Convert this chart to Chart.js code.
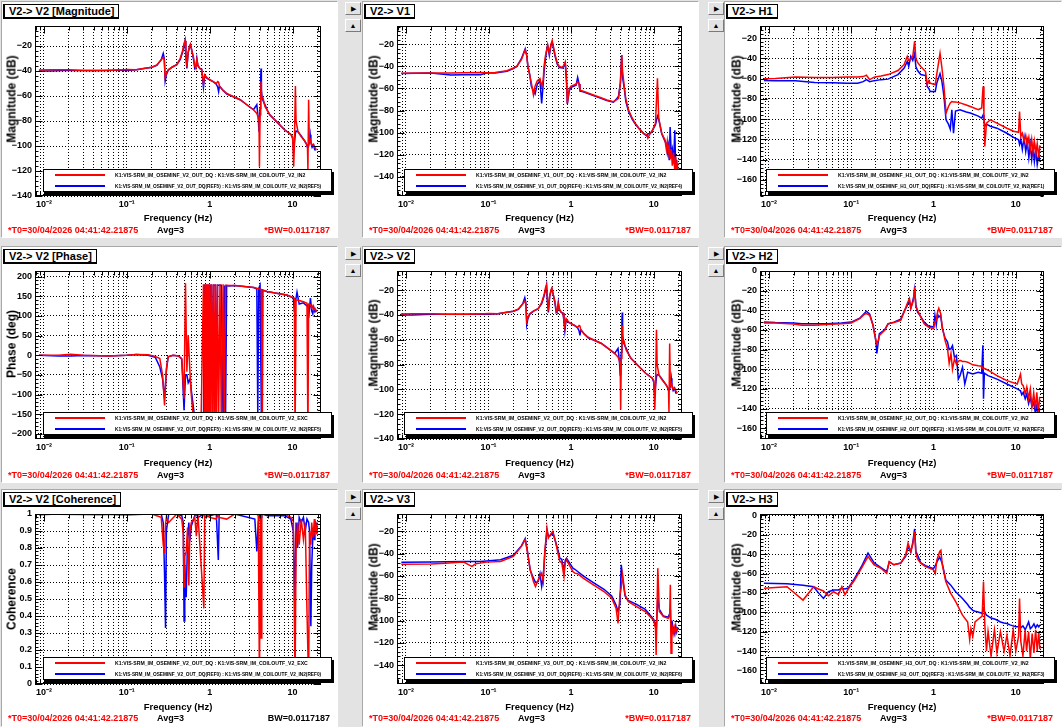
<!DOCTYPE html>
<html>
<head>
<meta charset="utf-8">
<title>V2 excitation - transfer functions</title>
<script src="https://cdn.jsdelivr.net/npm/chart.js@4.4.1/dist/chart.umd.min.js"></script>
<style>
  body { margin: 0; background: #e3e3e3; }
  #screen { position: relative; width: 1062px; height: 727px; overflow: hidden; background: #e3e3e3;
            font-family: "Liberation Sans", Arial, Helvetica, sans-serif; }
  .pad { position: absolute; background: #fff; box-shadow: -1px -1px 0 #a8a8a8; }
  .pad canvas { position: absolute; left: 0; top: 0; }
  .ttl { position: absolute; left: 1px; top: 2px; background: #fff; border: 1px solid #000;
         border-left-width: 2px; border-bottom-width: 2px; padding: 0 4px; font-weight: bold;
         font-size: 11px; line-height: 12px; white-space: nowrap; }
  .ytl { position: absolute; font-weight: bold; font-size: 12px; line-height: 13px; white-space: nowrap;
         transform: translate(-50%, -50%) rotate(-90deg); }
  .leg { position: absolute; box-sizing: border-box; background: #fff; border: 1px solid #000;
         box-shadow: 2px 3px 0 #000; }
  .leg .ln { position: absolute; left: 11px; width: 50px; height: 2px; }
  .leg .tx { position: absolute; left: 71px; font-weight: bold; font-size: 10.3px; line-height: 12px;
             white-space: nowrap; transform: scale(0.5); transform-origin: 0 0; }
  .leg .tx.ref { font-size: 9.5px; }
  .foot { position: absolute; top: 223px; font-weight: bold; font-size: 9px; line-height: 11px; white-space: nowrap; }
  .btn { position: absolute; width: 14px; height: 11px; background: #e3e3e3; border: 1px solid;
         border-color: #fff #7a7a7a #7a7a7a #fff; font-size: 7px; line-height: 11px; text-align: center; color: #000; }
</style>
</head>
<body>
<div id="screen"></div>
<script>
// ---- axis ticks ----
const xGridTicks = [0.008, 0.009, 0.01, 0.02, 0.03, 0.04, 0.05, 0.06, 0.07, 0.08, 0.09,
  0.1, 0.2, 0.3, 0.4, 0.5, 0.6, 0.7, 0.8, 0.9, 1, 2, 3, 4, 5, 6, 7, 8, 9, 10, 20];
const xDecades = [0.01, 0.1, 1, 10];
const xDecadeLabels = ['10\u207B\u00B2', '10\u207B\u00B9', '1', '10'];
const yTicksMag140 = [-140, -120, -100, -80, -60, -40, -20];
const yTicksMag160 = [-160, -140, -120, -100, -80, -60, -40, -20];
const yTicksMag160z = [-160, -140, -120, -100, -80, -60, -40, -20, 0];
const yTicksPhase = [-200, -150, -100, -50, 0, 50, 100, 150, 200];
const yTicksCoh = [0, 0.1, 0.2, 0.3, 0.4, 0.5, 0.6, 0.7, 0.8, 0.9, 1];

// ---- V2 -> V2 magnitude (dB) ----
const fV2 = [0.0087, 0.012, 0.02, 0.03, 0.05, 0.08, 0.1, 0.13, 0.16, 0.2,
  0.23, 0.26, 0.275, 0.283, 0.29, 0.3, 0.315, 0.35, 0.4, 0.44,
  0.47, 0.49, 0.504, 0.515, 0.53, 0.55, 0.57, 0.585, 0.61, 0.635,
  0.66, 0.68, 0.7, 0.72, 0.76, 0.8, 0.82, 0.84, 0.87, 0.93,
  1.0, 1.1, 1.2, 1.25, 1.28, 1.31, 1.45, 1.61, 2.0, 2.33,
  2.8, 3.37, 3.7, 3.85, 3.93, 3.98, 4.05, 4.12, 4.16, 4.2,
  4.3, 4.36, 4.5, 4.65, 5.0, 5.3, 6.4, 8.0, 9.6, 10.0,
  10.3, 10.5, 10.8, 11.0, 11.6, 12.7, 14.0, 14.6, 15.1, 15.3,
  15.6, 15.9, 16.3, 16.6, 17.2, 17.9, 18.5, 19.3];
const magV2Red = [-39.2, -39, -39, -39.5, -39.5, -39.3, -38.8, -39, -38, -37,
  -35.2, -31, -29, -31, -45, -42, -39, -37, -35, -30,
  -24, -18, -15.7, -25, -36.5, -25, -20, -18.4, -24, -28.5,
  -36, -38, -31, -35, -38, -39, -44, -50, -43, -45.5,
  -47, -48.5, -50, -48.5, -49, -52, -55.5, -58, -61, -63,
  -67, -71, -74, -77, -80, -116.5, -75, -60, -48.5, -62,
  -62, -60.5, -65, -68.5, -72, -75, -80.5, -87, -91, -93,
  -116.5, -100, -52, -80, -88.5, -92.5, -96, -98, -100, -119,
  -63, -97, -95, -97, -99, -99, -101, -103];
const magV2Blue = [-40, -40, -39.5, -39.5, -39.5, -39.3, -39.5, -39, -38, -37,
  -35.5, -31, -26, -30, -48, -43, -39.5, -37, -35, -31,
  -25, -20, -16, -28, -38, -25, -21, -19, -24, -30,
  -38, -37, -30, -36, -38, -38.5, -46, -53, -44, -46,
  -47, -48.5, -50.5, -53, -56.5, -52, -55.5, -58.5, -61, -63,
  -67, -71, -67, -78, -88.5, -80, -70, -45, -38, -55,
  -62, -63, -65, -67, -72, -75, -80.5, -87, -91, -94,
  -104.5, -98, -90, -88, -88.5, -92, -96, -98, -101, -100,
  -100, -97, -91, -97, -101, -99, -103, -103];

// ---- V2 -> V1 magnitude (dB) ----
const fV1 = [0.0088, 0.02, 0.035, 0.05, 0.08, 0.095, 0.12, 0.167, 0.2, 0.22,
  0.25, 0.278, 0.29, 0.3, 0.315, 0.33, 0.35, 0.366, 0.39, 0.42,
  0.44, 0.46, 0.47, 0.49, 0.51, 0.52, 0.545, 0.57, 0.59, 0.64,
  0.68, 0.72, 0.79, 0.85, 0.88, 0.9, 0.95, 1.0, 1.07, 1.15,
  1.2, 1.25, 1.28, 1.4, 1.86, 2.3, 2.71, 3.26, 3.6, 3.75,
  3.95, 4.1, 4.2, 4.4, 4.6, 4.96, 5.5, 5.96, 6.6, 7.5,
  8.25, 8.5, 9.0, 9.5, 10.5, 11.1, 11.5, 12.5, 13.7, 14.2,
  14.6, 15.0, 15.4, 15.8, 16.3, 16.8, 17.4, 18.0, 18.5, 19.0,
  19.5];
const magV1Red = [-46.3, -46, -46, -45.7, -45.5, -45.7, -45.5, -44, -41.5, -40,
  -34, -25, -30, -40, -48, -55, -66, -58, -53, -51,
  -58, -52, -40, -30, -24.5, -20.6, -28, -20, -16.7, -29.7,
  -37, -40, -41, -35.7, -50, -73.5, -60, -58, -57, -56,
  -54, -56, -61.5, -62.5, -66, -68.5, -70.5, -72, -70, -69,
  -55, -29.7, -45, -58, -70, -79.5, -87, -91.6, -96, -100.7,
  -102, -105, -101, -99, -91.6, -50.8, -87, -100.7, -106.8, -115,
  -108, -118, -112, -124, -115, -130, -118, -135, -122, -140,
  -128];
const magV1Blue = [-46.5, -46, -47.8, -47.5, -47.5, -46, -46, -44.5, -42, -40,
  -33, -24, -30, -40, -47, -58, -62, -65, -56, -53,
  -73.5, -55, -45, -33, -23, -21, -30, -21, -18, -31,
  -38, -41, -41.5, -38, -55, -74, -62, -59, -58, -57,
  -50, -56, -62.5, -63, -66.5, -69, -71, -72.5, -69, -67,
  -55, -29.7, -50, -60, -72, -81, -88, -92, -96, -100.7,
  -103, -101, -101, -99, -93, -85, -88, -101, -108, -110,
  -118, -112, -125, -95, -120, -115, -128, -98, -135, -125,
  -142];

// ---- V2 -> H1 magnitude (dB) ----
const fH1 = [0.0087, 0.012, 0.021, 0.036, 0.06, 0.09, 0.12, 0.14, 0.153, 0.168,
  0.19, 0.23, 0.28, 0.37, 0.44, 0.48, 0.5, 0.53, 0.56, 0.59,
  0.61, 0.64, 0.7, 0.8, 0.84, 0.88, 0.91, 1.05, 1.1, 1.2,
  1.26, 1.34, 1.42, 1.52, 1.6, 1.67, 1.75, 1.85, 2.1, 2.5,
  2.8, 3.5, 3.85, 4.0, 4.1, 4.2, 4.4, 4.9, 5.9, 7.8,
  9.4, 10.8, 11.1, 11.5, 12.0, 12.6, 13.2, 13.8, 14.4, 15.0,
  15.6, 16.2, 16.8, 17.5, 18.2, 19.0, 19.6];
const magH1Red = [-60.2, -60, -58.5, -59, -59, -58.5, -58.5, -58, -56.6, -61,
  -58.5, -57.5, -56, -52, -46, -38, -42, -41, -38, -23,
  -40, -44, -48, -53, -66, -62, -64.5, -66, -54.6, -35,
  -48, -67.8, -94, -87.5, -84, -82.6, -83, -83, -84, -86,
  -87.5, -90.8, -89, -67.8, -95, -127, -104, -100.7, -104, -109,
  -112, -113, -92.5, -117, -114, -122, -116, -126, -118, -130,
  -120, -133, -122, -135, -124, -138, -126];
const magH1Blue = [-61.8, -62, -62, -63.8, -64, -64.5, -64.5, -63, -61, -63,
  -62, -61, -60.5, -56, -49.6, -43, -48, -38, -42, -35,
  -48, -52, -56, -57, -67.8, -70, -72.7, -72.7, -64, -55,
  -62, -77.6, -100.7, -105, -110, -90.8, -114, -92, -90.8, -93,
  -94, -97, -99, -96, -100, -107, -105, -107, -109, -114,
  -118, -120.5, -125, -120, -130, -118, -132, -122, -138, -125,
  -140, -128, -142, -130, -145, -135, -142];

// ---- V2 -> V2 phase (deg) ----
const fPh = [0.0087, 0.015, 0.021, 0.03, 0.06, 0.1, 0.13, 0.18, 0.22, 0.25,
  0.27, 0.285, 0.3, 0.315, 0.36, 0.42, 0.46, 0.49, 0.51, 0.53,
  0.55, 0.58, 0.6, 0.66, 0.72, 0.78, 0.84, 0.86, 0.88, 0.9,
  0.92, 0.94, 0.96, 0.98, 1.0, 1.02, 1.05, 1.08, 1.11, 1.14,
  1.17, 1.2, 1.24, 1.28, 1.33, 1.38, 1.45, 1.5, 1.55, 1.6,
  1.7, 2.0, 3.4, 3.7, 3.8, 3.9, 4.05, 4.2, 4.3, 4.4,
  4.9, 6.4, 8.5, 10.2, 10.5, 10.7, 11.0, 11.3, 12.0, 13.5,
  14.9, 15.3, 15.6, 16.0, 16.4, 17.0, 17.5, 18.0, 18.6, 19.5];
const phaseV2Red = [0, 0, 2.6, 0, -2, 0, 2, 1, -3, -8.5,
  -51, -127.7, -34, -4, 0, -2, -8.5, -110, 183, -42,
  51, -51, -102, -200, -160, -210, 180, -180, 180, -180,
  180, -180, 180, -180, 180, -180, 180, -180, 180, -180,
  180, -180, 180, -180, 180, -180, 180, -180, 178, 178,
  177, 177, 172, 170, 169, 169, 168, 167, -213, 165,
  162, 157.5, 153, 146, 145, -213, 140, 140, 139, 136,
  132, -213, 128, 130, 128, 120, 125, 115, 119, 110];
const phaseV2Blue = [0, -2, -2, -1, -2, 0, 2, 0, -5, -30,
  -60, -110, -40, -4, 0, -2, -10, -140, -50, -50,
  -70, -60, -90, -160, -200, -210, -200, 178, 178, 0,
  178, 178, 178, 178, -180, 178, 178, -180, 178, 178,
  178, -180, 178, 178, 178, 178, -180, 177, -180, 177,
  176, 177, 172, 168, -153, 170, 178, -170, 166, 165,
  162, 157.5, 153, 146, 110, 140, 145, 160, 130, 133,
  125, 128, 95, 120, 145, 112, 105, 122, 110, 115];

// ---- V2 -> H2 magnitude (dB) ----
const fH2 = [0.0087, 0.012, 0.02, 0.025, 0.036, 0.05, 0.076, 0.1, 0.127, 0.145,
  0.153, 0.168, 0.184, 0.2, 0.205, 0.215, 0.22, 0.255, 0.28, 0.33,
  0.4, 0.44, 0.48, 0.51, 0.53, 0.57, 0.59, 0.61, 0.64, 0.67,
  0.77, 0.87, 1.0, 1.04, 1.08, 1.12, 1.16, 1.22, 1.28, 1.38,
  1.48, 1.55, 1.63, 1.7, 1.8, 1.9, 2.0, 2.1, 2.25, 2.4,
  2.6, 3.0, 3.5, 3.85, 3.98, 4.05, 4.15, 4.6, 5.9, 7.8,
  10.4, 11.4, 11.8, 12.3, 13.0, 13.6, 14.3, 15.0, 15.7, 16.5,
  17.3, 18.0, 18.8, 19.5];
const magH2Red = [-52.9, -52.9, -54, -55.3, -55.3, -54.5, -53.6, -52.9, -48.4, -44,
  -43.3, -45, -55.3, -70.6, -74, -70, -65.5, -60.4, -53.6, -52.5,
  -50.2, -41.6, -33, -28, -38, -30, -16, -36.5, -40, -43.3,
  -53.6, -57, -58.7, -52, -50.2, -42, -38, -43.3, -57, -70.6,
  -79, -94, -84, -100, -89.4, -95, -92, -91, -92, -92,
  -92.8, -95.5, -96.5, -97, -99, -99.6, -99, -101, -106.5, -111.6,
  -115, -105, -115, -116.7, -125, -118, -130, -120, -138, -124,
  -140, -123.5, -145, -128];
const magH2Blue = [-51.9, -52.5, -53, -53.6, -53.6, -53.6, -53, -52, -48, -43,
  -41, -44, -55, -72, -84, -70, -63.8, -60, -54, -52,
  -49, -41, -35, -30, -38, -28, -19, -34, -42, -44,
  -52, -56, -57, -45, -55, -44, -47, -45, -58.7, -68,
  -72.3, -80, -79, -76, -88, -86, -110, -106.5, -98, -115,
  -103, -104.7, -103, -104, -75.7, -130, -104, -106.5, -110, -115,
  -120, -122, -126, -123.5, -130, -125, -135, -128.6, -138, -133.7,
  -145, -137, -148, -140];

// ---- V2 -> V2 coherence ----
const fCoh = [0.0087, 0.015, 0.05, 0.08, 0.1, 0.2, 0.26, 0.275, 0.285, 0.293,
  0.3, 0.32, 0.4, 0.46, 0.48, 0.49, 0.5, 0.52, 0.54, 0.56,
  0.575, 0.6, 0.66, 0.69, 0.72, 0.85, 0.87, 1.0, 1.2, 1.27,
  1.3, 1.6, 2.0, 3.5, 3.7, 3.85, 3.98, 4.08, 4.16, 4.25,
  5.0, 8.0, 9.5, 10.2, 10.7, 11.0, 11.5, 12.0, 12.7, 13.5,
  14.2, 14.9, 15.6, 16.0, 16.6, 17.0, 17.6, 18.3, 18.6, 19.2,
  19.6];
const cohV2Red = [1, 0.998, 0.995, 1, 0.997, 1, 0.98, 0.82, 0.77, 0.94,
  0.98, 0.95, 1, 0.97, 0.88, 0.57, 0.75, 0.78, 0.92, 0.58,
  0.9, 0.95, 0.98, 0.87, 1, 0.445, 1, 0.98, 0.97, 1,
  0.98, 0.97, 1, 1, 1, 0.99, 0, 0.99, 0.27, 1,
  1, 1, 0.98, 0.96, 0, 0.8, 0.95, 0.82, 0.97, 0.85,
  0.95, 0.43, 0, 0.9, 0.82, 0.95, 0.86, 0.97, 0.9, 0.93,
  0.88];
const cohV2Blue = [0.995, 1, 1, 0.995, 0.995, 1, 1, 0.95, 0.65, 0.33,
  0.9, 1, 1, 0.99, 0.95, 0.37, 0.7, 0.51, 0.85, 0.95,
  0.84, 0.93, 0.99, 1, 0.98, 1, 0.98, 0.99, 1, 0.73,
  1, 1, 1, 0.97, 0.78, 0.95, 0.99, 1, 0.98, 1,
  0.99, 0.99, 0.97, 0.9, 0.455, 0.95, 0.8, 0.98, 0.95, 0.98,
  0.9, 0.97, 0.95, 0.9, 0.34, 0.69, 0.9, 0.85, 0.96, 0.9,
  0.95];

// ---- V2 -> V3 magnitude (dB) ----
const fV3 = [0.0088, 0.02, 0.03, 0.05, 0.058, 0.063, 0.07, 0.079, 0.095, 0.14,
  0.2, 0.25, 0.278, 0.295, 0.32, 0.35, 0.37, 0.4, 0.42, 0.44,
  0.46, 0.48, 0.51, 0.53, 0.56, 0.6, 0.64, 0.7, 0.73, 0.77,
  0.82, 0.85, 0.88, 0.97, 1.05, 1.11, 1.2, 1.4, 1.86, 2.5,
  3.1, 3.5, 3.7, 3.9, 4.05, 4.2, 4.5, 4.9, 6.2, 7.9,
  9.0, 10.0, 10.5, 10.7, 11.2, 11.7, 13.1, 15.0, 15.6, 15.9,
  16.2, 16.6, 17.0, 17.5, 18.0, 18.5, 19.0, 19.5];
const magV3Red = [-49.4, -49.2, -48.5, -47.6, -50, -51.5, -49, -48.5, -47.6, -47,
  -42.5, -33.5, -27.5, -38, -54.5, -65, -69.5, -63.5, -60, -57.5,
  -65, -38, -17, -26, -23, -20, -27.5, -41, -47, -48,
  -60.5, -48, -45.5, -51.5, -56, -57.5, -58, -62, -68, -74,
  -80, -89, -102.5, -77, -70, -59, -77, -83, -87.5, -92,
  -96.5, -100, -107, -131, -53, -92, -96.5, -98, -96, -68,
  -129.5, -115, -107, -112, -106, -110, -107, -108];
const magV3Blue = [-47.6, -47.5, -47.3, -47, -47, -47, -47, -47, -46.5, -45.5,
  -41.5, -33, -26.5, -37, -55, -62, -66, -65, -58, -69.5,
  -60, -40, -19, -24, -24, -21, -28, -38, -44, -45,
  -55, -46, -44, -49, -53, -54, -56, -60, -66, -72,
  -78, -86, -92, -85, -50, -62, -78, -82, -85.5, -90,
  -95, -99, -103, -110, -80, -90, -96, -97, -94, -90,
  -110, -100, -105, -108, -112, -105, -110, -106];

// ---- V2 -> H3 magnitude (dB) ----
const fH3 = [0.0087, 0.0166, 0.026, 0.035, 0.04, 0.046, 0.053, 0.061, 0.07, 0.077,
  0.084, 0.092, 0.11, 0.133, 0.16, 0.19, 0.23, 0.27, 0.29, 0.33,
  0.4, 0.46, 0.49, 0.53, 0.56, 0.59, 0.61, 0.64, 0.7, 0.8,
  1.0, 1.05, 1.1, 1.19, 1.23, 1.28, 1.41, 1.62, 1.86, 2.25,
  2.6, 2.75, 2.85, 3.0, 3.2, 3.4, 3.9, 4.05, 4.2, 4.4,
  4.6, 5.0, 5.5, 5.9, 6.5, 7.2, 7.8, 8.5, 9.3, 10.0,
  10.8, 11.1, 11.5, 12.2, 13.0, 13.5, 14.3, 15.0, 15.8, 16.6,
  17.4, 18.2, 19.0, 19.6];
const magH3Red = [-75.3, -73.6, -87.4, -73.6, -76, -78, -83, -78.8, -81.5, -73.6,
  -82, -76, -66.7, -54.6, -42.5, -51, -54.6, -59.8, -47.7, -51,
  -49.4, -40.8, -28.7, -37.3, -30, -16.6, -39, -45, -49.4, -52.9,
  -56.3, -60, -46, -37.3, -36, -51, -68.4, -80.5, -89, -103,
  -110, -128, -116.8, -125, -110, -108, -104, -68.4, -113, -140,
  -120, -145, -118, -142, -120, -140, -123.7, -145, -118, -140,
  -125, -85.7, -130, -145, -118, -140, -120, -148, -122, -142,
  -118, -140, -120, -138];
const magH3Blue = [-70, -70.5, -72, -73.6, -80, -85.7, -78.8, -77, -77, -75.3,
  -76, -75, -65, -53, -39, -49, -54, -58, -48, -51,
  -49, -42, -32, -38, -28, -14, -37, -41, -49, -52,
  -55, -52, -48, -43, -46, -50, -66.7, -72, -78.8, -85.7,
  -92, -95, -96, -98, -99, -99.5, -101, -97, -100, -103,
  -104, -106, -107, -108, -110, -111, -111.6, -113, -114, -115,
  -115, -113, -116, -114, -118, -115, -110, -117, -115, -112,
  -116, -113, -115, -113];

// ---- legend texts ----
const legendRed = [
  'K1:VIS-SRM_IM_OSEMINF_V2_OUT_DQ : K1:VIS-SRM_IM_COILOUTF_V2_IN2',
  'K1:VIS-SRM_IM_OSEMINF_V1_OUT_DQ : K1:VIS-SRM_IM_COILOUTF_V2_IN2',
  'K1:VIS-SRM_IM_OSEMINF_H1_OUT_DQ : K1:VIS-SRM_IM_COILOUTF_V2_IN2',
  'K1:VIS-SRM_IM_OSEMINF_V2_OUT_DQ : K1:VIS-SRM_IM_COILOUTF_V2_EXC',
  'K1:VIS-SRM_IM_OSEMINF_V2_OUT_DQ : K1:VIS-SRM_IM_COILOUTF_V2_IN2',
  'K1:VIS-SRM_IM_OSEMINF_H2_OUT_DQ : K1:VIS-SRM_IM_COILOUTF_V2_IN2',
  'K1:VIS-SRM_IM_OSEMINF_V2_OUT_DQ : K1:VIS-SRM_IM_COILOUTF_V2_EXC',
  'K1:VIS-SRM_IM_OSEMINF_V3_OUT_DQ : K1:VIS-SRM_IM_COILOUTF_V2_IN2',
  'K1:VIS-SRM_IM_OSEMINF_H3_OUT_DQ : K1:VIS-SRM_IM_COILOUTF_V2_IN2'
];
const legendBlue = [
  'K1:VIS-SRM_IM_OSEMINF_V2_OUT_DQ(REF5) : K1:VIS-SRM_IM_COILOUTF_V2_IN2(REF5)',
  'K1:VIS-SRM_IM_OSEMINF_V1_OUT_DQ(REF4) : K1:VIS-SRM_IM_COILOUTF_V2_IN2(REF4)',
  'K1:VIS-SRM_IM_OSEMINF_H1_OUT_DQ(REF1) : K1:VIS-SRM_IM_COILOUTF_V2_IN2(REF1)',
  'K1:VIS-SRM_IM_OSEMINF_V2_OUT_DQ(REF5) : K1:VIS-SRM_IM_COILOUTF_V2_IN2(REF5)',
  'K1:VIS-SRM_IM_OSEMINF_V2_OUT_DQ(REF5) : K1:VIS-SRM_IM_COILOUTF_V2_IN2(REF5)',
  'K1:VIS-SRM_IM_OSEMINF_H2_OUT_DQ(REF2) : K1:VIS-SRM_IM_COILOUTF_V2_IN2(REF2)',
  'K1:VIS-SRM_IM_OSEMINF_V2_OUT_DQ(REF0) : K1:VIS-SRM_IM_COILOUTF_V2_IN2(REF0)',
  'K1:VIS-SRM_IM_OSEMINF_V3_OUT_DQ(REF6) : K1:VIS-SRM_IM_COILOUTF_V2_IN2(REF6)',
  'K1:VIS-SRM_IM_OSEMINF_H3_OUT_DQ(REF3) : K1:VIS-SRM_IM_COILOUTF_V2_IN2(REF3)'
];
const footT0 = '*T0=30/04/2026 04:41:42.21875';
const footAvg = 'Avg=3';

// ---- panel list (row by row) ----
const panels = [
  { title: 'V2-> V2 [Magnitude]', yTitle: 'Magnitude (dB)', f: fV2, red: magV2Red, blue: magV2Blue,
    yMin: -140, yMax: -4, yTicks: yTicksMag140, minor: 4, kind: 'db', bw: '*BW=0.0117187', bwRed: true },
  { title: 'V2-> V1', yTitle: 'Magnitude (dB)', f: fV1, red: magV1Red, blue: magV1Blue,
    yMin: -157.5, yMax: -3.4, yTicks: yTicksMag140, minor: 4, kind: 'db', bw: '*BW=0.0117187', bwRed: true },
  { title: 'V2-> H1', yTitle: 'Magnitude (dB)', f: fH1, red: magH1Red, blue: magH1Blue,
    yMin: -176, yMax: -8, yTicks: yTicksMag160, minor: 4, kind: 'db', bw: '*BW=0.0117187', bwRed: true },
  { title: 'V2-> V2 [Phase]', yTitle: 'Phase (deg)', f: fPh, red: phaseV2Red, blue: phaseV2Blue,
    yMin: -213, yMax: 214, yTicks: yTicksPhase, minor: 10, kind: 'deg', bw: '*BW=0.0117187', bwRed: true },
  { title: 'V2-> V2', yTitle: 'Magnitude (dB)', f: fV2, red: magV2Red, blue: magV2Blue,
    yMin: -140, yMax: -4.6, yTicks: yTicksMag140, minor: 4, kind: 'db', bw: '*BW=0.0117187', bwRed: true },
  { title: 'V2-> H2', yTitle: 'Magnitude (dB)', f: fH2, red: magH2Red, blue: magH2Blue,
    yMin: -171, yMax: 0, yTicks: yTicksMag160z, minor: 4, kind: 'db', bw: '*BW=0.0117187', bwRed: true },
  { title: 'V2-> V2 [Coherence]', yTitle: 'Coherence', f: fCoh, red: cohV2Red, blue: cohV2Blue,
    yMin: 0, yMax: 1, yTicks: yTicksCoh, minor: 0.02, kind: 'coh', bw: 'BW=0.0117187', bwRed: false },
  { title: 'V2-> V3', yTitle: 'Magnitude (dB)', f: fV3, red: magV3Red, blue: magV3Blue,
    yMin: -157, yMax: -4.4, yTicks: yTicksMag140, minor: 4, kind: 'db', bw: '*BW=0.0117187', bwRed: true },
  { title: 'V2-> H3', yTitle: 'Magnitude (dB)', f: fH3, red: magH3Red, blue: magH3Blue,
    yMin: -174, yMax: 1.4, yTicks: yTicksMag160z, minor: 4, kind: 'db', bw: '*BW=0.0117187', bwRed: true }
];

// ---- page geometry ----
const colPos = [
  { left: 2, width: 336, frameL: 35, frameR: 321 },
  { left: 363, width: 336, frameL: 397, frameR: 682 },
  { left: 725, width: 337, frameL: 760, frameR: 1044 }
];
const rowPos = [
  { top: 2, height: 236, frameT: 26, frameB: 196 },
  { top: 247, height: 236, frameT: 271, frameB: 439 },
  { top: 490, height: 237, frameT: 514, frameB: 684 }
];
const yTitleShift = { db: -12, deg: -11, coh: 0 };
const FONT = '"Liberation Sans", Arial, Helvetica, sans-serif';

Chart.defaults.font.family = FONT;
Chart.defaults.color = '#000';

function isDecade(v) {
  return xDecades.some(d => Math.abs(v / d - 1) < 1e-6);
}

function yLabel(kind, v) {
  if (kind === 'coh') return String(Math.round(v * 10) / 10);
  return v < 0 ? '\u2212' + Math.abs(v) : String(v);
}

// frame box and inside tick marks, like the ROOT canvas
const rootFrame = {
  id: 'rootFrame',
  afterDraw(chart, args, opts) {
    const { ctx, chartArea: a, scales: { x, y } } = chart;
    const L = Math.round(a.left) + 0.5, R = Math.round(a.right) - 0.5;
    const T = Math.round(a.top) + 0.5, B = Math.round(a.bottom) - 0.5;
    ctx.save();
    ctx.setLineDash([]);
    ctx.strokeStyle = '#000';
    ctx.lineWidth = 1;
    ctx.beginPath();
    x.ticks.forEach(t => {
      const px = Math.round(x.getPixelForValue(t.value)) + 0.5;
      const len = isDecade(t.value) ? 7 : 4;
      ctx.moveTo(px, B); ctx.lineTo(px, B - len);
      ctx.moveTo(px, T); ctx.lineTo(px, T + len);
    });
    for (let v = Math.ceil(y.min / opts.minor) * opts.minor; v <= y.max + 1e-9; v += opts.minor) {
      const py = Math.round(y.getPixelForValue(v)) + 0.5;
      const major = opts.majors.some(m => Math.abs(m - v) < 1e-6);
      const len = major ? 7 : 3;
      ctx.moveTo(L, py); ctx.lineTo(L + len, py);
      ctx.moveTo(R, py); ctx.lineTo(R - len, py);
    }
    ctx.stroke();
    ctx.strokeRect(L, T, R - L, B - T);
    ctx.restore();
  }
};

const screen = document.getElementById('screen');

function addDiv(parent, cls, text, style) {
  const d = document.createElement('div');
  d.className = cls;
  if (text !== undefined) d.textContent = text;
  Object.assign(d.style, style || {});
  parent.appendChild(d);
  return d;
}

// side buttons between the columns
[345, 708].forEach(bx => {
  rowPos.forEach(r => {
    addDiv(screen, 'btn', '\u25B6', { left: bx + 'px', top: (r.top) + 'px' });
    addDiv(screen, 'btn', '\u25B2', { left: bx + 'px', top: (r.top + 17) + 'px' });
  });
});

panels.forEach((p, i) => {
  const c = colPos[i % 3];
  const r = rowPos[Math.floor(i / 3)];
  const pad = addDiv(screen, 'pad', undefined, {
    left: c.left + 'px', top: r.top + 'px', width: c.width + 'px', height: r.height + 'px'
  });

  const canvas = document.createElement('canvas');
  canvas.width = c.width;
  canvas.height = r.height;
  canvas.style.width = c.width + 'px';
  canvas.style.height = r.height + 'px';
  pad.appendChild(canvas);

  const yW = c.frameL - c.left;
  const xH = r.top + r.height - r.frameB;

  new Chart(canvas, {
    type: 'line',
    data: {
      datasets: [
        { label: 'red', data: p.f.map((f, k) => ({ x: f, y: p.red[k] })),
          borderColor: '#ff0000', borderWidth: 1.5, pointRadius: 0, tension: 0, fill: false },
        { label: 'blue', data: p.f.map((f, k) => ({ x: f, y: p.blue[k] })),
          borderColor: '#0000ff', borderWidth: 1.5, pointRadius: 0, tension: 0, fill: false }
      ]
    },
    options: {
      responsive: false,
      animation: false,
      events: [],
      layout: { padding: { left: 0, top: r.frameT - r.top, right: c.left + c.width - c.frameR, bottom: 0 } },
      plugins: {
        legend: { display: false },
        tooltip: { enabled: false },
        rootFrame: { minor: p.minor, majors: p.yTicks }
      },
      scales: {
        x: {
          type: 'logarithmic',
          min: 0.0078, max: 22, bounds: 'data',
          afterBuildTicks: s => { s.ticks = xGridTicks.map(v => ({ value: v })); },
          afterFit: s => { s.height = xH; s.paddingLeft = 0; s.paddingRight = 0; },
          ticks: {
            autoSkip: false, maxRotation: 0, minRotation: 0, padding: 3, color: '#000',
            font: { size: 9, weight: 'bold' },
            callback: v => {
              const k = xDecades.findIndex(d => Math.abs(v / d - 1) < 1e-6);
              return k >= 0 ? xDecadeLabels[k] : '';
            }
          },
          grid: { color: '#000', lineWidth: 1, drawTicks: false },
          border: { display: false, dash: [1, 2] },
          title: { display: true, text: 'Frequency (Hz)', color: '#000',
                   font: { size: 9.5, weight: 'bold' }, padding: { top: 0, bottom: 14 } }
        },
        y: {
          type: 'linear',
          min: p.yMin, max: p.yMax, bounds: 'data',
          afterBuildTicks: s => { s.ticks = p.yTicks.map(v => ({ value: v })); },
          afterFit: s => { s.width = yW; s.paddingTop = 0; s.paddingBottom = 0; },
          ticks: { padding: 3, color: '#000', font: { size: 9, weight: 'bold' },
                   callback: v => yLabel(p.kind, v) },
          grid: { color: '#000', lineWidth: 1, drawTicks: false },
          border: { display: false, dash: [1, 2] }
        }
      }
    },
    plugins: [rootFrame]
  });

  // title box
  addDiv(pad, 'ttl', p.title);

  // y axis title
  addDiv(pad, 'ytl', p.yTitle, {
    left: (yW - 23) + 'px',
    top: ((r.frameT + r.frameB) / 2 - r.top + yTitleShift[p.kind]) + 'px'
  });

  // legend box
  const leg = addDiv(pad, 'leg', undefined, {
    left: '41px', top: (r.frameB - r.top - 27) + 'px', width: '289px', height: '23px'
  });
  addDiv(leg, 'ln', undefined, { top: '4px', background: '#ff0000' });
  addDiv(leg, 'tx', legendRed[i], { top: '2px' });
  addDiv(leg, 'ln', undefined, { top: '15px', background: '#0000ff' });
  addDiv(leg, 'tx ref', legendBlue[i], { top: '13px' });

  // footer
  addDiv(pad, 'foot', footT0, { left: '6px', color: '#ff0000' });
  addDiv(pad, 'foot', footAvg, { left: '155px', color: '#000' });
  addDiv(pad, 'foot', p.bw, { right: (c.width - 328) + 'px', color: p.bwRed ? '#ff0000' : '#000' });
});
</script>
</body>
</html>
